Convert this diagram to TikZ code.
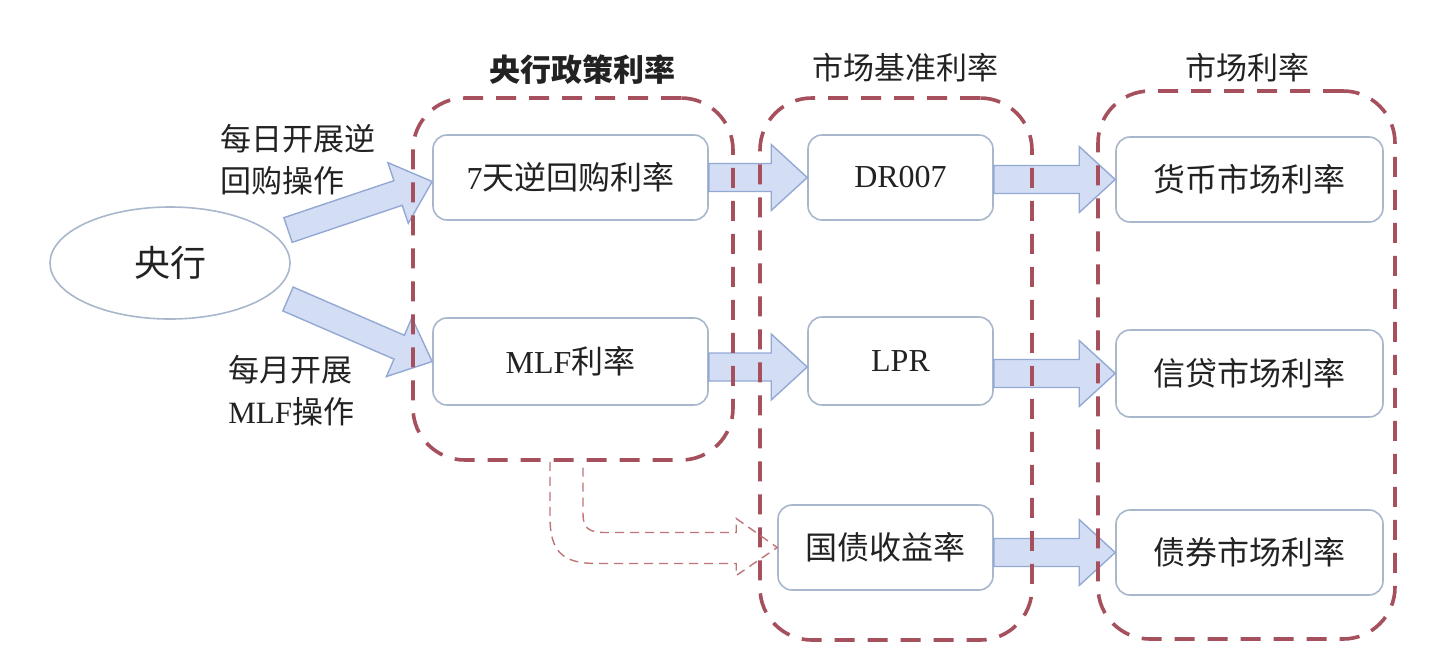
\documentclass[tikz,border=0pt]{standalone}
\usepackage{fontspec}
\setmainfont{Liberation Serif}
\newfontfamily\cjk{Noto Sans CJK SC}
\usetikzlibrary{shapes.geometric,calc}
\definecolor{arrfill}{HTML}{D3DEF5}
\definecolor{arrline}{HTML}{93A9D4}
\definecolor{boxline}{HTML}{A9B7CC}
\definecolor{grpline}{HTML}{A5505C}
\definecolor{hollowline}{HTML}{C07478}
\definecolor{txt}{HTML}{222222}
\tikzset{
  boxnode/.style={draw=boxline, line width=0.8pt, rounded corners=7pt, fill=white,
    inner sep=0pt, text=txt, font=\fontsize{16}{19}\selectfont},
  grp/.style={draw=grpline, line width=1.8pt, dash pattern=on 10pt off 6.5pt,
    rounded corners=26pt, inner sep=0pt},
  ttl/.style={text=txt, font=\fontsize{15.5}{19}\selectfont, inner sep=0pt},
  side/.style={text=txt, font=\fontsize{15.5}{21}\selectfont, align=left, inner sep=0pt},
  barr/.style={draw=arrline, line width=0.7pt, fill=arrfill, line join=miter},
  hollow/.style={draw=hollowline, line width=0.7pt, dash pattern=on 4.5pt off 3pt},
}
\newcommand\barrow[5]{%
  \coordinate (ba-s) at (#1);
  \coordinate (ba-e) at (#2);
  \coordinate (ba-h) at ($(ba-e)!#5!(ba-s)$);
  \draw[barr] ($(ba-s)!#3!90:(ba-e)$) -- ($(ba-h)!#3!90:(ba-e)$) -- ($(ba-h)!#4!90:(ba-e)$)
    -- (ba-e) -- ($(ba-h)!#4!-90:(ba-e)$) -- ($(ba-h)!#3!-90:(ba-e)$)
    -- ($(ba-s)!#3!-90:(ba-e)$) -- cycle;}
\begin{document}
\begin{tikzpicture}[x=0.5pt,y=-0.5pt]
\useasboundingbox (0,0) rectangle (1440,670);
\fill[white] (0,0) rectangle (1440,670);

% central bank
\node[ellipse, draw=boxline, line width=0.8pt, minimum width=120pt, minimum height=56pt,
  inner sep=0pt, text=txt, font=\fontsize{18}{20}\selectfont] (cb) at (170,263) {\cjk 央行};
\coordinate (cbu) at ($(cb.center)+(118,-33)$);
\coordinate (cbd) at ($(cb.center)+(118,36)$);

% boxes
\node[boxnode, minimum width=137.5pt, minimum height=42.5pt] (seven) at (570.5,177.5) {7{\cjk 天逆回购利率}};
\node[boxnode, minimum width=137.5pt, minimum height=43.5pt] (mlf) at (570.5,361.5) {MLF{\cjk 利率}};
\node[boxnode, minimum width=92.5pt, minimum height=42.5pt] (dr) at (900.5,177.5) {DR007};
\node[boxnode, minimum width=92.5pt, minimum height=44pt] (lpr) at (900.5,361) {LPR};
\node[boxnode, minimum width=107.5pt, minimum height=42.5pt] (gz) at (885.5,547.5) {\cjk 国债收益率};
\node[boxnode, minimum width=133.5pt, minimum height=42.5pt] (hb) at (1249.5,179.5) {\cjk 货币市场利率};
\node[boxnode, minimum width=133.5pt, minimum height=43.5pt] (xd) at (1249.5,373.5) {\cjk 信贷市场利率};
\node[boxnode, minimum width=133.5pt, minimum height=42.5pt] (zq) at (1249.5,552.5) {\cjk 债券市场利率};

% side labels
\node[side, anchor=north west] (l1) at (220,124) {\cjk 每日开展逆\\\cjk 回购操作};
\node[side, anchor=north west] (l2) at (228,355) {{\cjk 每月开展}\\MLF{\cjk 操作}};

% block arrows
\barrow{cbu}{$(seven.west)+(0,4)$}{6.5pt}{16pt}{18pt}
\barrow{cbd}{mlf.west}{6.5pt}{16pt}{18pt}
\barrow{seven.east}{dr.west}{7pt}{16.5pt}{18pt}
\barrow{mlf.east |- 0,367}{lpr.west |- 0,367}{7pt}{16.5pt}{18pt}
\barrow{dr.east |- hb.west}{hb.west}{7pt}{16.5pt}{18pt}
\barrow{lpr.east |- xd.west}{xd.west}{7pt}{16.5pt}{18pt}
\barrow{gz.east |- zq.west}{zq.west}{7pt}{16.5pt}{18pt}

% dashed groups
\node[grp, minimum width=160pt, minimum height=181pt] (g1) at (573,279) {};
\node[grp, minimum width=136pt, minimum height=271pt] (g2) at (896,369) {};
\node[grp, minimum width=148.5pt, minimum height=274pt] (g3) at (1246.5,365) {};

% titles
\node[ttl] (t1) at (582,70) {\cjk\bfseries 央行政策利率};
\node[ttl] (t2) at (905,68) {\cjk 市场基准利率};
\node[ttl] (t3) at (1247,68) {\cjk 市场利率};

% hollow dashed arrow from policy rates to treasury yield
\coordinate (ho0) at ($(g1.south)+(-23,0)$);
\coordinate (ho1) at ($(g1.south)+(-23,55)$);
\coordinate (ho2) at ($(gz.west)+(-180,16)$);
\coordinate (ho3) at ($(gz.west)+(-41,16)$);
\coordinate (ho4) at ($(gz.west)+(-41,28)$);
\coordinate (ho5) at ($(gz.west)+(-41,-29)$);
\coordinate (ho6) at ($(gz.west)+(-41,-15)$);
\coordinate (ho7) at ($(gz.west)+(-172,-15)$);
\coordinate (ho8) at ($(g1.south)+(10,52)$);
\coordinate (ho9) at ($(g1.south)+(10,0)$);
\draw[hollow] (ho0) -- (ho1) .. controls ($(ho0 |- ho3)+(0,-12)$) and ($(ho0 |- ho3)+(12,0)$) .. (ho2)
  -- (ho3) -- (ho4) -- (gz.west) -- (ho5) -- (ho6) -- (ho7)
  .. controls ($(ho9 |- ho6)+(5,0)$) and ($(ho9 |- ho6)+(0,-5)$) .. (ho8) -- (ho9);
\end{tikzpicture}
\end{document}
